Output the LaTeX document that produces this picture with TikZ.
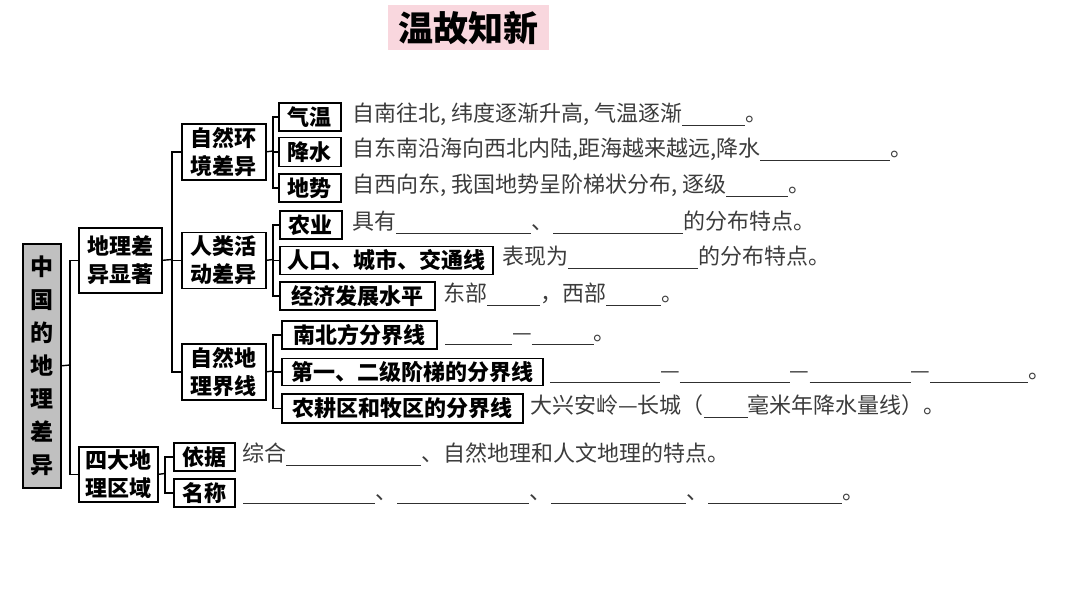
\documentclass[tikz,border=0pt]{standalone}
\usepackage{fontspec}
\setmainfont{Noto Sans CJK SC}
\definecolor{pinkbg}{RGB}{249,215,222}
\definecolor{rootgray}{RGB}{192,192,192}
\definecolor{txtgray}{RGB}{60,60,60}
\newcommand\blk[1]{\textcolor{txtgray!80!black}{\rule[-4pt]{#1pt}{0.8pt}}}
\tikzset{
  bx/.style={draw=black, line width=1.6pt, inner sep=0pt, align=center,
    font=\fontsize{22}{28}\selectfont\bfseries, anchor=north west},
  ln/.style={line width=1.4pt},
  ft/.style={anchor=west, inner sep=0pt, text=txtgray,
    font=\fontsize{22}{26}\selectfont, text height=16pt, text depth=5pt},
}
\begin{document}
\begin{tikzpicture}[x=1pt,y=-1pt]
\fill[white] (0,0) rectangle (1080,608);
\useasboundingbox (0,0) rectangle (1080,608);
% title
\node[fill=pinkbg, minimum width=161pt, minimum height=45pt, anchor=north west,
  inner sep=0pt, font=\fontsize{35}{38}\selectfont\bfseries] (title) at (388,5) {温故知新};
% root
\node[bx, fill=rootgray, minimum width=38pt, minimum height=244pt,
  font=\fontsize{23}{33}\selectfont\bfseries] (root) at (22,243) {中\\国\\的\\地\\理\\差\\异};
% level 1
\node[bx, minimum width=83pt, minimum height=65pt] (dl) at (78,227) {地理差\\异显著};
\node[bx, minimum width=79pt, minimum height=55pt] (sd) at (78,446) {四大地\\理区域};
% level 2
\node[bx, minimum width=84pt, minimum height=56pt] (zr) at (181,123) {自然环\\境差异};
\node[bx, minimum width=84pt, minimum height=56pt] (rl) at (181,231.5) {人类活\\动差异};
\node[bx, minimum width=84pt, minimum height=56pt] (zj) at (181,343) {自然地\\理界线};
% level 3
\node[bx, minimum width=62pt, minimum height=28pt] (qw) at (278,102) {气温};
\node[bx, minimum width=62pt, minimum height=29pt] (js) at (278,136.5) {降水};
\node[bx, minimum width=62pt, minimum height=28pt] (ds) at (278,173) {地势};
\node[bx, minimum width=62pt, minimum height=28pt] (ny) at (279,210) {农业};
\node[bx, minimum width=213pt, minimum height=28pt] (rk) at (279,245.5) {人口、城市、交通线};
\node[bx, minimum width=155pt, minimum height=28pt] (jj) at (279,281) {经济发展水平};
\node[bx, minimum width=155pt, minimum height=28pt] (nb) at (281,320) {南北方分界线};
\node[bx, minimum width=261pt, minimum height=27pt] (dy) at (281,357.5) {第一、二级阶梯的分界线};
\node[bx, minimum width=241pt, minimum height=29pt] (ng) at (281,393) {农耕区和牧区的分界线};
\node[bx, minimum width=61pt, minimum height=28pt] (yj) at (173,442) {依据};
\node[bx, minimum width=61pt, minimum height=28pt] (mc) at (173,478) {名称};
% connectors
\coordinate (f1) at (70,365);
\draw[ln] (root.east) -- (f1);
\draw[ln] (dl.west) -| (f1) |- (sd.west);
\coordinate (f2) at (172,259.5);
\draw[ln] (dl.east) -- (f2);
\draw[ln] (zr.west) -| (f2) |- (zj.west);
\draw[ln] (rl.west) -- (rl.west -| f2);
\coordinate (f3) at (273,151);
\draw[ln] (zr.east) -- (f3);
\draw[ln] (qw.west) -| (f3) |- (ds.west);
\draw[ln] (js.west) -- (js.west -| f3);
\coordinate (f4) at (273,259.5);
\draw[ln] (rl.east) -- (f4);
\draw[ln] (ny.west) -| (f4) |- (jj.west);
\draw[ln] (rk.west) -- (rk.west -| f4);
\coordinate (f5) at (273,371);
\draw[ln] (zj.east) -- (f5);
\draw[ln] (nb.west) -| (f5) |- (ng.west);
\draw[ln] (dy.west) -- (dy.west -| f5);
\coordinate (f6) at (165,473.5);
\draw[ln] (sd.east) -- (f6);
\draw[ln] (yj.west) -| (f6) |- (mc.west);
% fill-in texts
\node[ft] (t1) at (352,116) {自南往北, 纬度逐渐升高, 气温逐渐\blk{63}。};
\node[ft] (t2) at (352,151) {自东南沿海向西北内陆,距海越来越远,降水\blk{130}。};
\node[ft] (t3) at (352,187) {自西向东, 我国地势呈阶梯状分布, 逐级\blk{62}。};
\node[ft] (t4) at (352,224) {具有\blk{135}、\blk{130}的分布特点。};
\node[ft] (t5) at (502,259) {表现为\blk{130}的分布特点。};
\node[ft] (t6) at (443,296) {东部\blk{53}，西部\blk{55}。};
\node[ft] (t7) at (445,335) {\blk{67}—\blk{62}。};
\node[ft] (t8) at (550,373) {\blk{110}—\blk{110}—\blk{101}—\blk{98}。};
\node[ft] (t9) at (530,408) {大兴安岭—长城（\blk{44}毫米年降水量线）。};
\node[ft] (t10) at (242,456) {综合\blk{135}、自然地理和人文地理的特点。};
\node[ft] (t11) at (243,494) {\blk{132}、\blk{132}、\blk{135}、\blk{134}。};
\end{tikzpicture}
\end{document}
